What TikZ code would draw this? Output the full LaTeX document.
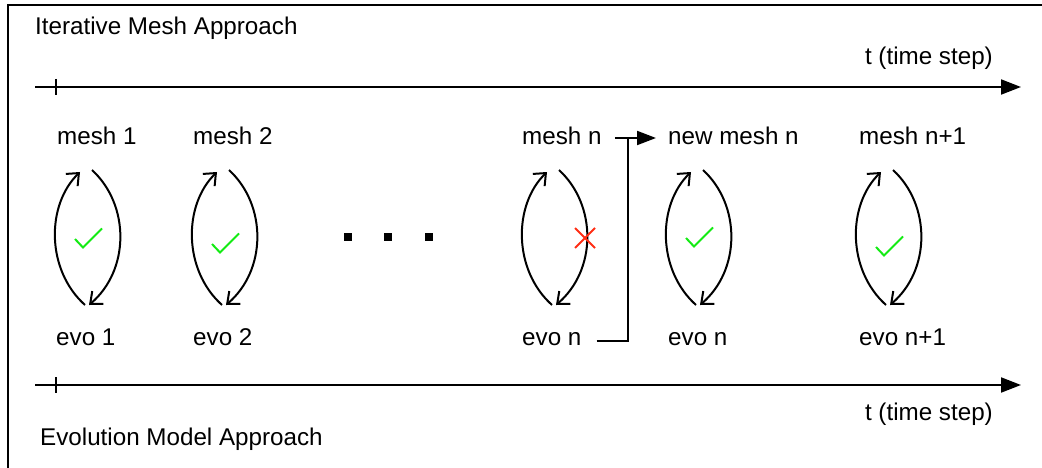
\documentclass[tikz,border=0pt]{standalone}
\usepackage{fontspec}
\setmainfont{Liberation Sans}
\usetikzlibrary{arrows.meta}
\definecolor{okgreen}{RGB}{20,235,20}
\definecolor{failred}{RGB}{255,45,20}
\tikzset{
  lbl/.style={anchor=base west, inner sep=0pt, font=\fontsize{24.2}{29}\selectfont},
  axis/.style={line width=2pt, -{Triangle[length=20pt,width=15pt]}},
  frame/.style={line width=2pt},
  loop/.style={line width=2pt},
  looptip/.style={-{Straight Barb[length=10pt,width=17pt,line width=2pt]}},
  check/.style={line width=2pt, okgreen, line join=miter},
  cross/.style={line width=2pt, failred},
  dot/.style={fill=black, minimum size=8pt, inner sep=0pt, draw=none},
  conn/.style={line width=2pt}
}
\newcommand{\mloop}[1]{% center x
  \draw[loop,looptip] (#1-3,305) .. controls (#1-42,270) and (#1-42,205) .. (#1-8,172);
  \draw[loop,looptip] (#1+4,170) .. controls (#1+42,205) and (#1+42,270) .. (#1+1,305);
}
\newcommand{\mcheck}[2]{% center x, y of left point
  \draw[check] (#1-13,#2) -- (#1-5,#2+8.5) -- (#1+14,#2-10.5);
}
\begin{document}
\begin{tikzpicture}[x=1pt,y=-1pt]
\useasboundingbox (0,0) rectangle (1042,468);
% frame
\draw[frame] (8,470) -- (8,5) -- (1044,5);
% titles
\node[lbl] (title1) at (35,35) {Iterative Mesh Approach};
\node[lbl] (title2) at (40,445) {Evolution Model Approach};
% axes
\coordinate (a1s) at (35,87);
\coordinate (a1e) at (1021,87);
\draw[axis] (a1s) -- (a1e);
\draw[line width=1.8pt] (56,79) -- (56,95);
\node[lbl, anchor=base east] (t1) at (993,65) {t (time step)};
\coordinate (a2s) at (35,385);
\coordinate (a2e) at (1021,385);
\draw[axis] (a2s) -- (a2e);
\draw[line width=1.8pt] (56,377) -- (56,393);
\node[lbl, anchor=base east] (t2) at (993,420) {t (time step)};
% mesh labels
\node[lbl] (m1) at (57,145) {mesh 1};
\node[lbl] (m2) at (193,145) {mesh 2};
\node[lbl] (mn) at (522,145) {mesh n};
\node[lbl] (nmn) at (668,145) {new mesh n};
\node[lbl] (mn1) at (859,145) {mesh n+1};
% evo labels
\node[lbl] (e1) at (56,345) {evo 1};
\node[lbl] (e2) at (193,345) {evo 2};
\node[lbl] (en) at (522,345) {evo n};
\node[lbl] (enn) at (668,345) {evo n};
\node[lbl] (en1) at (859,345) {evo n+1};
% loops
\mloop{88}
\mloop{225}
\mloop{555}
\mloop{699}
\mloop{889}
% checks
\mcheck{88}{239}
\mcheck{225}{244}
\mcheck{699}{238}
\mcheck{889}{247}
% cross
\draw[cross] (575,228) -- (595,248);
\draw[cross] (575,248) -- (595,228);
% dots
\node[dot] (d1) at (348,237) {};
\node[dot] (d2) at (388,237) {};
\node[dot] (d3) at (429,237) {};
% connector
\coordinate (jn) at (628,138);
\draw[conn] ([xshift=15pt]en.east |- 0,341) coordinate (es) -- (es -| jn) -- (jn);
\draw[conn, -{Triangle[length=19pt,width=14pt]}] ([xshift=13pt]mn.east |- 0,138) -- ([xshift=-12pt]nmn.west |- 0,138);
\end{tikzpicture}
\end{document}
